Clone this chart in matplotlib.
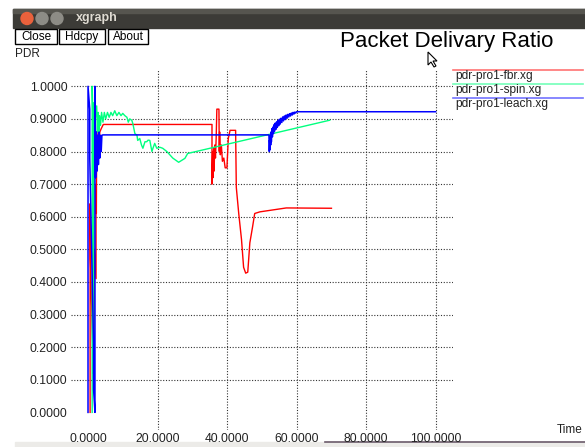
import matplotlib
matplotlib.use('Agg')
import matplotlib.pyplot as plt
from matplotlib.patches import Rectangle, Circle, Polygon
from matplotlib.lines import Line2D

plt.rcParams['font.family'] = ['Liberation Sans', 'DejaVu Sans']

# ---- data ----
fbr_t = [0.5, 0.5, 0.6, 1.6, 1.7, 2.2, 2.2, 2.3, 2.4, 3.0, 3.3, 3.7, 4.3, 35.6,
         35.6, 35.8, 35.9, 36.1, 36.2, 36.4, 36.6, 36.8, 37.0, 37.6, 37.7, 37.8,
         38.0, 38.3, 38.6, 39.0, 39.4, 39.9, 40.3, 40.8, 42.4, 42.6, 43.3, 44.1,
         44.7, 45.3, 45.9, 46.5, 47.3, 47.9, 49.4, 57.0, 70.0]
fbr_pdr = [0.0, 0.64, 0.47, 0.07, 0.50, 0.41, 0.70, 0.61, 0.86, 0.81, 0.86, 0.87, 0.883, 0.883,
           0.70, 0.80, 0.72, 0.81, 0.74, 0.82, 0.78, 0.84, 0.93, 0.93, 0.80, 0.86,
           0.79, 0.82, 0.77, 0.78, 0.75, 0.75, 0.84, 0.865, 0.865, 0.69, 0.61, 0.53,
           0.445, 0.427, 0.43, 0.52, 0.57, 0.61, 0.615, 0.627, 0.626]

spin_t = [1.1, 1.1, 1.3, 1.3, 1.35, 1.45, 1.5, 1.6, 2.0, 2.4, 2.6, 2.8, 3.0, 3.2,
          3.5, 3.8, 4.2, 4.6, 5.0, 5.5, 6.0, 6.5, 7.0, 7.6, 8.2, 8.8, 9.4, 9.9,
          10.5, 11.1, 11.5, 11.9, 12.5, 12.8, 13.4, 14.0, 14.2, 14.8, 15.3, 15.7,
          16.3, 16.8, 17.2, 17.7, 18.3, 18.6, 19.1, 19.7, 20.6, 21.4, 22.6, 24.3,
          26.0, 27.8, 28.6, 69.5]
spin_pdr = [0.0, 1.0, 0.90, 0.35, 0.12, 0.33, 0.15, 0.95, 0.90, 0.94, 0.86, 0.92, 0.84, 0.91,
            0.88, 0.92, 0.89, 0.92, 0.90, 0.92, 0.905, 0.92, 0.91, 0.925, 0.91, 0.92, 0.91, 0.917,
            0.91, 0.905, 0.89, 0.90, 0.896, 0.886, 0.855, 0.85, 0.834, 0.84, 0.82, 0.81,
            0.83, 0.83, 0.835, 0.834, 0.80, 0.81, 0.825, 0.81, 0.813, 0.81, 0.80, 0.78,
            0.767, 0.779, 0.794, 0.896]

leach_t = [-0.1, -0.1, 0.4, 0.4, 1.5, 1.5, 1.9, 1.9, 2.1, 2.3, 2.5, 2.7, 2.9, 3.1,
           3.3, 3.5, 3.7, 3.9, 4.2, 52.0, 52.1, 52.2, 52.3, 52.4, 52.5, 52.6, 52.7,
           52.85, 53.0, 53.15, 53.3, 53.45, 53.6, 53.8, 54.0, 54.2, 54.4, 54.6, 54.8,
           55.0, 55.2, 55.45, 55.7, 55.95, 56.2, 56.45, 56.7, 56.95, 57.2, 57.45, 57.7,
           57.95, 58.2, 58.45, 58.7, 58.95, 59.2, 59.45, 59.7, 59.95, 60.2, 100.0]
leach_pdr = [0.0, 1.0, 0.93, 0.78, 0.21, 0.07, 0.0, 1.0, 0.72, 0.86, 0.74, 0.85, 0.76, 0.86,
             0.78, 0.85, 0.80, 0.85, 0.851, 0.851, 0.80, 0.835, 0.805, 0.85, 0.82, 0.86, 0.83,
             0.87, 0.845, 0.875, 0.855, 0.882, 0.862, 0.887, 0.868, 0.891, 0.874, 0.895, 0.879,
             0.899, 0.884, 0.902, 0.889, 0.906, 0.894, 0.909, 0.898, 0.912, 0.902, 0.914, 0.906,
             0.916, 0.909, 0.918, 0.912, 0.92, 0.915, 0.921, 0.918, 0.922, 0.922, 0.922]

names = ['pdr-pro1-fbr.xg', 'pdr-pro1-spin.xg', 'pdr-pro1-leach.xg']
colors = ['red', '#00ff7f', 'blue']
xticks = [0, 20, 40, 60, 80, 100]
yticks = [0.0, 0.1, 0.2, 0.3, 0.4, 0.5, 0.6, 0.7, 0.8, 0.9, 1.0]

W, H = 585, 447
fig = plt.figure(figsize=(W / 100, H / 100), dpi=100)

# window decorations, drawn in pixel coords
bg = fig.add_axes([0, 0, 1, 1])
bg.set_xlim(0, W)
bg.set_ylim(H, 0)
bg.axis('off')
bg.add_patch(Rectangle((13, 9), W - 13, 19, color='#3c3b37'))
bg.add_patch(Rectangle((13, 9), W - 13, 4, color='#56554f'))
bg.add_patch(Circle((27, 18.5), 6, color='#e9613c'))
bg.add_patch(Circle((42, 18.5), 6, color='#8d8c86'))
bg.add_patch(Circle((57, 18.5), 6, color='#8d8c86'))
bg.text(76, 18.5, 'xgraph', color='#dfdbd2', fontsize=9, fontweight='bold', va='center')
for lbl, x0, x1 in [('Close', 15, 57), ('Hdcpy', 59, 105), ('About', 108, 148)]:
    bg.add_patch(Rectangle((x0, 29), x1 - x0, 15, fill=False, ec='black', lw=1))
    bg.text((x0 + x1) / 2, 36.8, lbl, fontsize=8.5, ha='center', va='center')
bg.text(15, 54, 'PDR', fontsize=8.5, va='center', color='#222')
bg.text(447, 41, 'Packet Delivary Ratio', fontsize=16, ha='center', va='center')
bg.text(557, 430, 'Time', fontsize=8.5, va='center', color='#222')
bg.add_patch(Polygon([(428, 52), (428, 65), (431, 62), (434, 67), (436, 66), (433, 61), (437, 61)],
                     closed=True, fc='white', ec='black', lw=0.8))
for i, name in enumerate(names):
    y = 70 + 14 * i
    bg.add_line(Line2D([453, 583], [y, y], color=colors[i], lw=1.2, alpha=0.55))
    bg.text(455, y + 6, name, fontsize=8.6, va='center', color='#222')
bg.add_patch(Rectangle((15, 442), W - 15, 5, color='#ecebe8'))
bg.add_line(Line2D([325, W], [441.5, 441.5], color='#6b5b6b', lw=1.2))

# plot area
ax = fig.add_axes([71 / W, 1 - 430 / H, (453 - 71) / W, (430 - 70) / H])
ax.set_xlim(-5, 105)
ax.set_ylim(-0.054, 1.05)
ax.patch.set_alpha(0)
for s in ax.spines.values():
    s.set_visible(False)
for y in yticks[1:]:
    ax.axhline(y, color='#333', lw=0.8, ls=(0, (1, 1.5)))
for x in xticks[1:]:
    ax.axvline(x, color='#333', lw=0.8, ls=(0, (1, 1.5)))

ax.plot(fbr_t, fbr_pdr, color=colors[0], lw=1.0)
ax.plot(spin_t, spin_pdr, color=colors[1], lw=1.0)
ax.plot(leach_t, leach_pdr, color=colors[2], lw=1.1)

ax.set_xticks(xticks)
ax.set_xticklabels(['%.4f' % v for v in xticks])
ax.set_yticks(yticks)
ax.set_yticklabels(['%.4f' % v for v in yticks])
ax.tick_params(length=0, labelsize=8.7, labelcolor='#222')
ax.tick_params(axis='x', pad=2.5)
ax.tick_params(axis='y', pad=2.5)

fig.savefig('out.png', dpi=100)
